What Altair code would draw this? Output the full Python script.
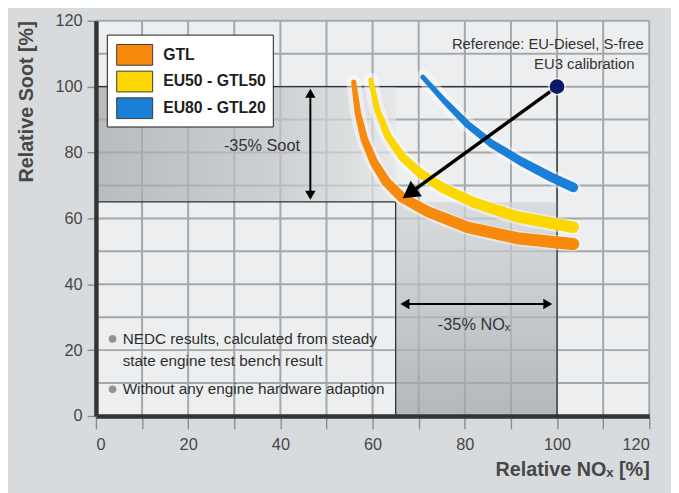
import altair as alt
import pandas as pd

# ---- data ----
series_names = ["GTL", "EU50 - GTL50", "EU80 - GTL20"]
series_colors = ["#f7890c", "#fcd800", "#1a7fd6"]

gtl_x = [55.9, 56.8, 58.2, 60.3, 63.0, 66.4, 72.0, 80.6, 91.3, 103.5]
gtl_y = [101.4, 92.0, 84.0, 77.0, 71.0, 66.3, 62.0, 57.3, 54.0, 52.2]
eu50_x = [59.6, 61.0, 63.3, 66.5, 70.5, 75.5, 82.0, 91.3, 103.5]
eu50_y = [102.0, 93.0, 85.0, 78.5, 73.5, 69.0, 64.8, 60.5, 57.3]
eu80_x = [70.9, 75.6, 80.6, 85.7, 92.1, 98.6, 103.5]
eu80_y = [102.9, 95.6, 88.5, 82.8, 77.4, 72.6, 69.4]

ref_x = [100]
ref_y = [100]

tick_values = [0, 10, 20, 30, 40, 50, 60, 70, 80, 90, 100, 110, 120]
grid_values = [10, 20, 30, 40, 50, 60, 70, 80, 90, 100, 110, 120]
axis_min, axis_max = 0, 120

# reduction boxes
soot_band = {"x": [0], "x2": [65], "y": [65], "y2": [100]}
nox_band = {"x": [65], "x2": [100], "y": [0], "y2": [65]}
frame_x = [0, 100, 0, 65]
frame_x2 = [100, 100, 65, 65]
frame_y = [100, 100, 65, 65]
frame_y2 = [100, 0, 65, 0]

# arrows
main_arrow = {"x": [100], "y": [100], "x2": [68.0], "y2": [67.6]}
soot_arrow = {"x": [46.5], "y": [98.0], "y2": [67.0]}
nox_arrow = {"y": [34.0], "x": [67.0], "x2": [98.0]}

# texts
ref_lines = ["Reference: EU-Diesel, S-free", "EU3 calibration"]
ref_lines_x = [118.8, 116.8]
ref_lines_y = [112.8, 107.0]
soot_label = ["-35% Soot"]
soot_label_xy = [36.0, 81.9]
nox_label = ["-35% NOₓ"]
nox_label_xy = [82.0, 27.6]
notes = ["NEDC results, calculated from steady", "state engine test bench result",
         "Without any engine hardware adaption"]
notes_x = [5.8, 5.8, 5.8]
notes_y = [23.4, 16.8, 8.1]
bullet_y = [23.4, 8.1]
bullet_x = [3.6, 3.6]

FONT = "Liberation Sans, Arial, sans-serif"

# ---- tables ----
rows = []
for name, xs, ys in zip(series_names, [gtl_x, eu50_x, eu80_x], [gtl_y, eu50_y, eu80_y]):
    for i, (a, b) in enumerate(zip(xs, ys)):
        rows.append({"series": name, "nox": a, "soot": b, "i": i})
curves = pd.DataFrame(rows)

X = alt.Scale(domain=[axis_min, axis_max], nice=False)
Y = alt.Scale(domain=[axis_min, axis_max], nice=False)

axis_common = dict(values=tick_values, labelExpr="datum.value % 20 == 0 ? datum.label : ''",
                   grid=False, zindex=2,
                   domainColor="#333333", domainWidth=4.5,
                   tickColor="#8a8d90", tickWidth=1.4,
                   labelFont=FONT, labelFontSize=16.5, labelColor="#474747",
                   titleFont=FONT, titleFontSize=20, titleFontWeight="bold", titleColor="#474747")
xaxis = alt.Axis(title="Relative NOₓ [%]", titleAnchor="end", titleAlign="right",
                 titleX=560, titleY=60, titleBaseline="alphabetic",
                 tickSize=13, labelPadding=8, **axis_common)
yaxis = alt.Axis(title="Relative Soot [%]", titleAngle=270, titleAlign="right",
                 titleBaseline="bottom", titleX=-60, titleY=0,
                 tickSize=9, labelPadding=5, **axis_common)

bgdf = pd.DataFrame({"a": [axis_min], "b": [axis_max]})
plot_bg = alt.Chart(bgdf).mark_rect(color="#eceef0", opacity=1).encode(
    x=alt.X("a:Q", scale=X, axis=xaxis), x2="b", y=alt.Y("a:Q", scale=Y, axis=yaxis), y2="b")

gdf = pd.DataFrame({"v": grid_values, "lo": [axis_min] * len(grid_values),
                    "hi": [axis_max] * len(grid_values)})
vgrid = alt.Chart(gdf).mark_rule(color="#a4a8ab", strokeWidth=2, opacity=1).encode(
    x="v:Q", y="lo:Q", y2="hi")
hgrid = alt.Chart(gdf).mark_rule(color="#a4a8ab", strokeWidth=2, opacity=1).encode(
    y="v:Q", x="lo:Q", x2="hi")

band1 = alt.Chart(pd.DataFrame(soot_band)).mark_rect(
    opacity=0.7,
    color=alt.LinearGradient(gradient="linear", x1=0, x2=1, y1=0, y2=0,
                             stops=[alt.GradientStop(color="#a2a6a9", offset=0),
                                    alt.GradientStop(color="#c0c3c5", offset=0.6),
                                    alt.GradientStop(color="#e2e4e5", offset=1)])
).encode(x="x:Q", x2="x2", y="y:Q", y2="y2")

band2 = alt.Chart(pd.DataFrame(nox_band)).mark_rect(
    opacity=0.7,
    color=alt.LinearGradient(gradient="linear", x1=0, x2=0, y1=0, y2=1,
                             stops=[alt.GradientStop(color="#d2d5d7", offset=0),
                                    alt.GradientStop(color="#9da1a4", offset=1)])
).encode(x="x:Q", x2="x2", y="y:Q", y2="y2")

frame = alt.Chart(pd.DataFrame({"x": frame_x, "x2": frame_x2, "y": frame_y, "y2": frame_y2})).mark_rule(
    color="#2f3234", strokeWidth=1.3
).encode(x="x:Q", x2="x2", y="y:Q", y2="y2")

glow = alt.Chart(curves).mark_line(color="white", strokeWidth=15, opacity=0.45,
                                   interpolate="catmull-rom", strokeCap="round").encode(
    x="nox:Q", y="soot:Q", detail="series:N", order="i:Q")

lines = alt.Chart(curves).transform_calculate(
    w="5 + (102 - datum.soot) * 0.15"
).mark_trail(interpolate="catmull-rom", opacity=1).encode(
    x="nox:Q", y="soot:Q", order="i:Q",
    size=alt.Size("w:Q", scale=None, legend=None),
    fill=alt.Fill("series:N", sort=series_names,
                  scale=alt.Scale(domain=series_names, range=series_colors),
                  legend=alt.Legend(title=None, orient="none", legendX=11, legendY=14,
                                    symbolType="M-0.75,-0.75H1.85V0.75H-0.75Z",
                                    symbolSize=784, symbolStrokeColor="#3a3a3a",
                                    symbolStrokeWidth=1, symbolOpacity=1,
                                    labelFontSize=16, labelFont=FONT, labelFontWeight="bold",
                                    labelColor="#1e1e1e", labelOffset=22, rowPadding=0,
                                    padding=6, fillColor="white", strokeColor="#1a1a1a",
                                    zindex=3)))

ma = pd.DataFrame(main_arrow)
arrow_line = alt.Chart(ma).mark_rule(color="black", strokeWidth=3.5).encode(
    x="x:Q", y="y:Q", x2="x2", y2="y2")
arrow_head = alt.Chart(ma).mark_point(shape="triangle-up", filled=True, color="black",
                                      size=380, angle=234.5, opacity=1).encode(x="x2:Q", y="y2:Q")

sa = pd.DataFrame(soot_arrow)
soot_line = alt.Chart(sa).mark_rule(color="black", strokeWidth=2).encode(x="x:Q", y="y:Q", y2="y2")
soot_up = alt.Chart(sa).mark_point(shape="triangle-up", filled=True, color="black", size=110,
                                   opacity=1).encode(x="x:Q", y="y:Q")
soot_dn = alt.Chart(sa).mark_point(shape="triangle-down", filled=True, color="black", size=110,
                                   opacity=1).encode(x="x:Q", y="y2:Q")

na = pd.DataFrame(nox_arrow)
nox_line = alt.Chart(na).mark_rule(color="black", strokeWidth=2).encode(x="x:Q", x2="x2", y="y:Q")
nox_l = alt.Chart(na).mark_point(shape="triangle-left", filled=True, color="black", size=110,
                                 opacity=1).encode(x="x:Q", y="y:Q")
nox_r = alt.Chart(na).mark_point(shape="triangle-right", filled=True, color="black", size=110,
                                 opacity=1).encode(x="x2:Q", y="y:Q")

refdf = pd.DataFrame({"x": ref_x, "y": ref_y})
ref_glow = alt.Chart(refdf).mark_circle(color="white", size=330, opacity=0.7).encode(x="x:Q", y="y:Q")
ref_dot = alt.Chart(refdf).mark_circle(color="#0c1a6b", size=220, opacity=1).encode(x="x:Q", y="y:Q")

ref_txt = alt.Chart(pd.DataFrame({"t": ref_lines, "x": ref_lines_x, "y": ref_lines_y})).mark_text(
    align="right", baseline="middle", font=FONT, fontSize=15, color="#333333").encode(
    x="x:Q", y="y:Q", text="t:N")

soot_txt = alt.Chart(pd.DataFrame({"t": soot_label, "x": [soot_label_xy[0]], "y": [soot_label_xy[1]]})).mark_text(
    align="center", baseline="middle", font=FONT, fontSize=16.5, color="#333333").encode(
    x="x:Q", y="y:Q", text="t:N")
nox_txt = alt.Chart(pd.DataFrame({"t": nox_label, "x": [nox_label_xy[0]], "y": [nox_label_xy[1]]})).mark_text(
    align="center", baseline="middle", font=FONT, fontSize=16.5, color="#333333").encode(
    x="x:Q", y="y:Q", text="t:N")

notes_txt = alt.Chart(pd.DataFrame({"t": notes, "x": notes_x, "y": notes_y})).mark_text(
    align="left", baseline="middle", font=FONT, fontSize=15.5, color="#2e2e2e").encode(
    x="x:Q", y="y:Q", text="t:N")
bullets = alt.Chart(pd.DataFrame({"x": bullet_x, "y": bullet_y})).mark_circle(
    color="#8f9396", size=60, opacity=1).encode(x="x:Q", y="y:Q")

chart = alt.layer(
    plot_bg, vgrid, hgrid, band1, band2, frame, glow, lines, arrow_line, arrow_head,
    soot_line, soot_up, soot_dn, nox_line, nox_l, nox_r,
    ref_glow, ref_dot, ref_txt, soot_txt, nox_txt, notes_txt, bullets
).properties(
    width=560, height=400,
    autosize=alt.AutoSizeParams(type="none"),
    padding={"left": 89, "top": 10, "right": 22, "bottom": 75},
    background="#d8dbde"
).configure_view(stroke=None)

chart.save("out.html", embed_options={"renderer": "svg", "actions": False})
